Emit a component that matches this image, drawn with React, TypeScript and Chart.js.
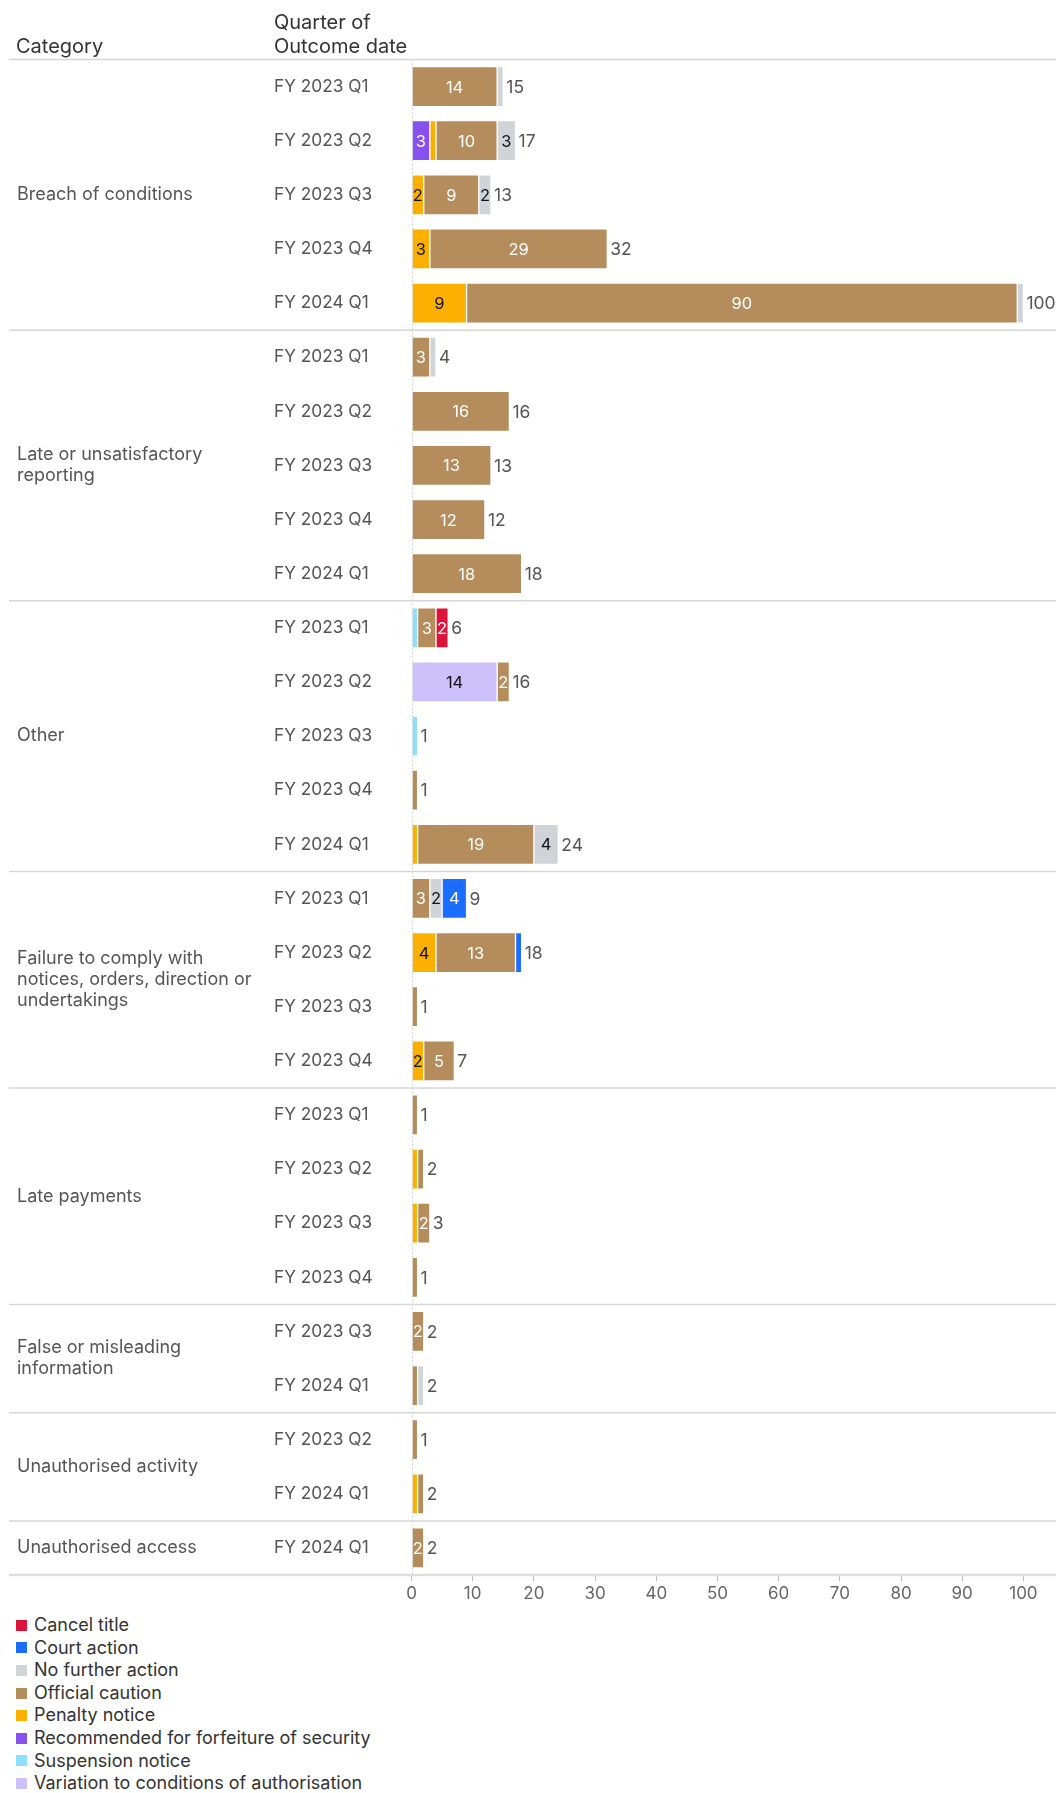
import React, { useEffect, useRef } from 'react';
import { Chart, registerables } from 'chart.js';
Chart.register(...registerables);

// ---------- DATA ----------
const groupNames = [
  'Breach of conditions',
  'Late or unsatisfactory reporting',
  'Other',
  'Failure to comply with notices, orders, direction or undertakings',
  'Late payments',
  'False or misleading information',
  'Unauthorised activity',
  'Unauthorised access',
];
const groupLines = [
  ['Breach of conditions'],
  ['Late or unsatisfactory', 'reporting'],
  ['Other'],
  ['Failure to comply with', 'notices, orders, direction or', 'undertakings'],
  ['Late payments'],
  ['False or misleading', 'information'],
  ['Unauthorised activity'],
  ['Unauthorised access'],
];
const groupSizes = [5, 5, 5, 4, 4, 2, 2, 1];

const quarterLabels = [
  'FY 2023 Q1', 'FY 2023 Q2', 'FY 2023 Q3', 'FY 2023 Q4', 'FY 2024 Q1',
  'FY 2023 Q1', 'FY 2023 Q2', 'FY 2023 Q3', 'FY 2023 Q4', 'FY 2024 Q1',
  'FY 2023 Q1', 'FY 2023 Q2', 'FY 2023 Q3', 'FY 2023 Q4', 'FY 2024 Q1',
  'FY 2023 Q1', 'FY 2023 Q2', 'FY 2023 Q3', 'FY 2023 Q4',
  'FY 2023 Q1', 'FY 2023 Q2', 'FY 2023 Q3', 'FY 2023 Q4',
  'FY 2023 Q3', 'FY 2024 Q1',
  'FY 2023 Q2', 'FY 2024 Q1',
  'FY 2024 Q1',
];

const N = null;
const cancelTitle = [N, N, N, N, N, N, N, N, N, N, 2, N, N, N, N, N, N, N, N, N, N, N, N, N, N, N, N, N];
const courtAction = [N, N, N, N, N, N, N, N, N, N, N, N, N, N, N, 4, 1, N, N, N, N, N, N, N, N, N, N, N];
const noFurtherAction = [1, 3, 2, N, 1, 1, N, N, N, N, N, N, N, N, 4, 2, N, N, N, N, N, N, N, N, 1, N, N, N];
const officialCaution = [14, 10, 9, 29, 90, 3, 16, 13, 12, 18, 3, 2, N, 1, 19, 3, 13, 1, 5, 1, 1, 2, 1, 2, 1, 1, 1, 2];
const penaltyNotice = [N, 1, 2, 3, 9, N, N, N, N, N, N, N, N, N, 1, N, 4, N, 2, N, 1, 1, N, N, N, N, 1, N];
const forfeiture = [N, 3, N, N, N, N, N, N, N, N, N, N, N, N, N, N, N, N, N, N, N, N, N, N, N, N, N, N];
const suspensionNotice = [N, N, N, N, N, N, N, N, N, N, 1, N, 1, N, N, N, N, N, N, N, N, N, N, N, N, N, N, N];
const variation = [N, N, N, N, N, N, N, N, N, N, N, 14, N, N, N, N, N, N, N, N, N, N, N, N, N, N, N, N];

const xTicks = [0, 10, 20, 30, 40, 50, 60, 70, 80, 90, 100];

// legend order (top to bottom)
const seriesNames = [
  'Cancel title',
  'Court action',
  'No further action',
  'Official caution',
  'Penalty notice',
  'Recommended for forfeiture of security',
  'Suspension notice',
  'Variation to conditions of authorisation',
];
const seriesValues = [cancelTitle, courtAction, noFurtherAction, officialCaution, penaltyNotice, forfeiture, suspensionNotice, variation];

// ---------- STYLE ----------
const seriesColors = ['#dc143c', '#1a6dff', '#d0d4d8', '#b58c5c', '#fbb000', '#8751f0', '#8edffc', '#cdc1fb'];
const labelColors = ['#ffffff', '#ffffff', '#111111', '#ffffff', '#111111', '#ffffff', '#111111', '#111111'];
const FONT = 'Inter, "Noto Sans", sans-serif';

export default function App() {
  const ref = useRef<HTMLCanvasElement | null>(null);

  useEffect(() => {
    document.body.style.margin = '0';
    const canvas = ref.current!;
    // stacking order left -> right is reverse of legend order
    const order = [7, 6, 5, 4, 3, 2, 1, 0];
    const datasets = order.map((i) => ({
      label: seriesNames[i],
      data: seriesValues[i],
      backgroundColor: seriesColors[i],
      borderColor: 'rgba(255,255,255,0.85)',
      borderWidth: 1,
      borderSkipped: false,
      barThickness: 40,
      _labelColor: labelColors[i],
    }));

    const totals = quarterLabels.map((_, r) =>
      seriesValues.reduce((s, arr) => s + ((arr[r] as number) || 0), 0)
    );

    const overlay = {
      id: 'overlay',
      afterDatasetsDraw(chart: any) {
        const ctx = chart.ctx as CanvasRenderingContext2D;
        const xs = chart.scales.x;
        const ys = chart.scales.y;
        ctx.save();
        // segment labels
        ctx.font = `16.5px ${FONT}`;
        ctx.textAlign = 'center';
        ctx.textBaseline = 'middle';
        chart.data.datasets.forEach((ds: any, di: number) => {
          const meta = chart.getDatasetMeta(di);
          meta.data.forEach((el: any, r: number) => {
            const v = ds.data[r];
            if (v == null || v < 2) return;
            ctx.fillStyle = ds._labelColor;
            ctx.fillText(String(v), (el.x + el.base) / 2, el.y + 1);
          });
        });
        // totals
        ctx.font = `17.5px ${FONT}`;
        ctx.fillStyle = '#555555';
        ctx.textAlign = 'left';
        totals.forEach((t, r) => {
          const x = xs.getPixelForValue(t) + 3;
          const y = ys.getPixelForValue(r);
          ctx.fillText(String(t), x, y + 1);
        });
        ctx.restore();
      },
      afterDraw(chart: any) {
        const ctx = chart.ctx as CanvasRenderingContext2D;
        const ca = chart.chartArea;
        const xs = chart.scales.x;
        ctx.save();
        // zero line
        ctx.strokeStyle = '#cfcfcf';
        ctx.lineWidth = 1;
        ctx.setLineDash([2, 2]);
        const zx = Math.round(xs.getPixelForValue(0)) + 0.5;
        ctx.beginPath();
        ctx.moveTo(zx, ca.top);
        ctx.lineTo(zx, ca.bottom);
        ctx.stroke();
        ctx.setLineDash([]);
        // separators
        const rowH = (ca.bottom - ca.top) / quarterLabels.length;
        let acc = 0;
        const bounds = [ca.top];
        groupSizes.forEach((g) => {
          acc += g;
          bounds.push(ca.top + acc * rowH);
        });
        bounds.forEach((y, i) => {
          ctx.lineWidth = i === bounds.length - 1 ? 2.5 : 1.5;
          ctx.strokeStyle = i === bounds.length - 1 ? '#dddddd' : '#d6d6d6';
          ctx.beginPath();
          ctx.moveTo(9, y);
          ctx.lineTo(1056, y);
          ctx.stroke();
        });
        // headers
        ctx.fillStyle = '#333333';
        ctx.font = `20px ${FONT}`;
        ctx.textAlign = 'left';
        ctx.textBaseline = 'middle';
        ctx.fillText('Category', 16, 47);
        ctx.fillText('Quarter of', 274, 23);
        ctx.fillText('Outcome date', 274, 47);
        // category labels
        ctx.fillStyle = '#555555';
        ctx.font = `18px ${FONT}`;
        groupLines.forEach((lines, gi) => {
          const cy = (bounds[gi] + bounds[gi + 1]) / 2;
          const lh = 21;
          const start = cy - ((lines.length - 1) * lh) / 2;
          lines.forEach((ln, li) => ctx.fillText(ln, 17, start + li * lh));
        });
        ctx.restore();
      },
    };

    const chart = new Chart(canvas, {
      type: 'bar',
      data: { labels: quarterLabels, datasets: datasets as any },
      options: {
        indexAxis: 'y',
        responsive: false,
        animation: false,
        devicePixelRatio: 1,
        layout: { padding: { left: 274, top: 59.5, right: 5, bottom: 0 } },
        plugins: { legend: { display: false }, tooltip: { enabled: false } },
        scales: {
          x: {
            stacked: true,
            min: 0,
            max: 105,
            afterBuildTicks: (s: any) => {
              s.ticks = xTicks.map((v) => ({ value: v }));
            },
            afterFit: (s: any) => {
              s.height = 35;
            },
            grid: { drawOnChartArea: false, tickLength: 6, color: '#bbbbbb', tickColor: '#bbbbbb' },
            border: { display: false },
            ticks: { font: { family: FONT, size: 17 }, color: '#666666', padding: 3 },
          },
          y: {
            stacked: true,
            afterFit: (s: any) => {
              s.width = 137.5;
            },
            grid: { display: false },
            border: { display: false },
            ticks: { crossAlign: 'far', font: { family: FONT, size: 17.3 }, color: '#555555', autoSkip: false },
          },
        },
      },
      plugins: [overlay],
    });
    return () => chart.destroy();
  }, []);

  return (
    <div style={{ position: 'relative', width: 1059, height: 1793, overflow: 'hidden', background: '#fff' }}>
      <canvas ref={ref} width={1059} height={1610} style={{ display: 'block', width: 1059, height: 1610 }} />
      <div
        style={{
          position: 'absolute',
          left: 16,
          top: 1614,
          fontFamily: FONT,
          fontSize: 18,
          color: '#333',
          lineHeight: '22.6px',
        }}
      >
        {seriesNames.map((n, i) => (
          <div key={n} style={{ display: 'flex', alignItems: 'center', whiteSpace: 'nowrap' }}>
            <span style={{ display: 'inline-block', width: 11, height: 11, background: seriesColors[i], marginRight: 7 }} />
            <span>{n}</span>
          </div>
        ))}
      </div>
    </div>
  );
}
